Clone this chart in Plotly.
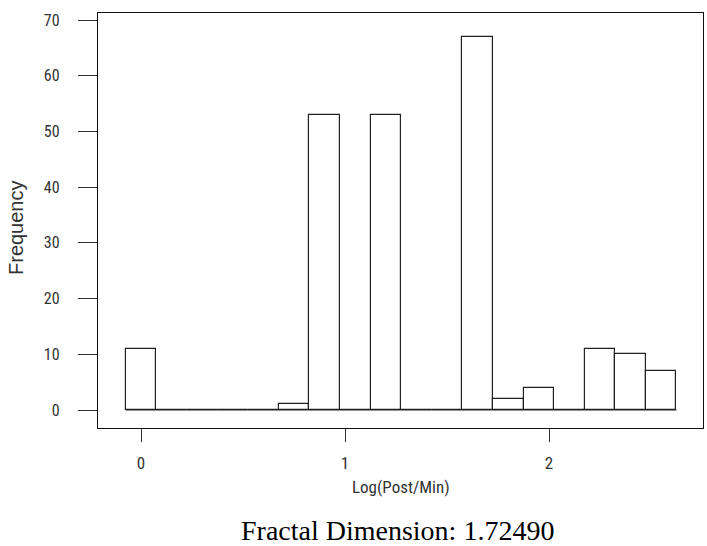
import plotly.graph_objects as go

# Histogram data (bin centres of Log(Post/Min), bin width 0.15)
bin_centers = [0.0, 0.15, 0.30, 0.45, 0.60, 0.75, 0.90, 1.05, 1.20, 1.35,
               1.50, 1.65, 1.80, 1.95, 2.10, 2.25, 2.40, 2.55]
counts = [11, 0, 0, 0, 0, 1, 53, 0, 53, 0, 0, 67, 2, 4, 0, 11, 10, 7]
bin_width = 0.15
x_ticks = [0, 1, 2]
y_ticks = [0, 10, 20, 30, 40, 50, 60, 70]
caption = "Fractal Dimension: 1.72490"

W, H = 707, 546
L, R, T, B = 98, 4, 13, 118

narrow = "Liberation Sans Narrow, Arial Narrow, Roboto Condensed, Roboto, Liberation Sans, Arial, sans-serif"

fig = go.Figure()

# baseline across all bins (R draws empty bins as a flat line at 0)
first_edge = bin_centers[0] - bin_width / 2
last_edge = bin_centers[-1] + bin_width / 2
fig.add_trace(go.Scatter(
    x=[first_edge, last_edge], y=[0, 0], mode="lines",
    line=dict(color="#222222", width=1), hoverinfo="skip", showlegend=False,
))

fig.add_trace(go.Bar(
    x=bin_centers, y=counts, width=bin_width,
    marker=dict(color="white", line=dict(color="#222222", width=1.2)),
    showlegend=False,
))

fig.update_layout(
    width=W, height=H,
    margin=dict(l=L, r=R, t=T, b=B, pad=0),
    paper_bgcolor="white", plot_bgcolor="white",
    bargap=0,
    font=dict(family=narrow, size=17, color="#333333"),
    xaxis=dict(
        range=[-0.211, 2.755], tickvals=x_ticks, ticktext=[str(v) for v in x_ticks],
        ticks="outside", ticklen=13, tickwidth=1.2, tickcolor="#333333",
        showline=True, mirror=True, linecolor="#111111", linewidth=1.3,
        showgrid=False, zeroline=False, ticklabelstandoff=6,
        tickfont=dict(family=narrow, size=17, color="#333333"),
    ),
    yaxis=dict(
        range=[-3.23, 71.26], tickvals=y_ticks, ticktext=[str(v) for v in y_ticks],
        ticks="outside", ticklen=19, tickwidth=1.2, tickcolor="#333333",
        showline=True, mirror=True, linecolor="#111111", linewidth=1.3,
        showgrid=False, zeroline=False, ticklabelstandoff=15,
        tickfont=dict(family=narrow, size=16, color="#333333"),
    ),
    annotations=[
        dict(text="Frequency", xref="paper", yref="paper",
             x=(16 - L) / (W - L - R), y=(H - B - 228) / (H - T - B),
             xanchor="center", yanchor="middle", textangle=-90, showarrow=False,
             font=dict(family="Liberation Sans, Arial, sans-serif", size=20, color="#333333")),
        dict(text="Log(Post/Min)", xref="paper", yref="paper",
             x=0.5, y=(H - B - 487) / (H - T - B),
             xanchor="center", yanchor="middle", showarrow=False,
             font=dict(family=narrow, size=17, color="#333333")),
        dict(text=caption, xref="paper", yref="paper",
             x=(397 - L) / (W - L - R), y=(H - B - 530) / (H - T - B),
             xanchor="center", yanchor="middle", showarrow=False,
             font=dict(family="Liberation Serif, Times New Roman, serif", size=28, color="black")),
    ],
)

fig.write_html("out.html", config={"displayModeBar": False},
               post_script="document.body.style.margin='0';")
